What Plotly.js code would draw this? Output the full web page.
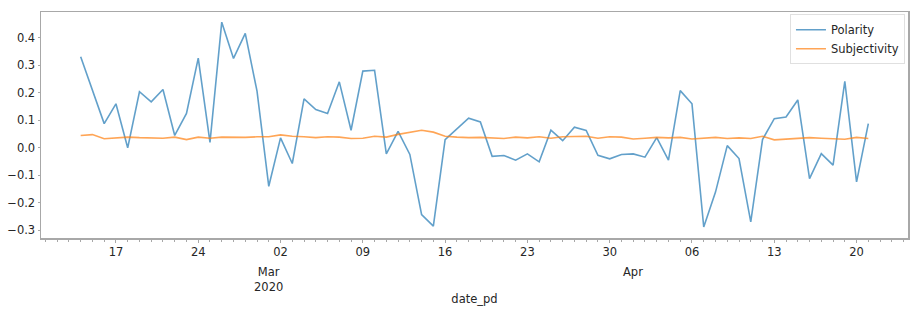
<!DOCTYPE html>
<html>
<head>
<meta charset="utf-8">
<script src="https://cdn.plot.ly/plotly-3.0.1.min.js"></script>
<style>html,body{margin:0;padding:0;background:#fff}#chart{width:924px;height:323px}</style>
</head>
<body>
<div id="chart"></div>
<script>
// Daily dates 2020-02-14 .. 2020-04-21
const startDate = '2020-02-14';
const nDays = 68;
const polarity = [
  0.330, 0.205, 0.087, 0.159, -0.001, 0.203, 0.166, 0.211, 0.044, 0.124,
  0.325, 0.019, 0.456, 0.324, 0.415, 0.205,
  -0.141, 0.035, -0.058, 0.177, 0.138, 0.124, 0.239, 0.063, 0.278, 0.281,
  -0.023, 0.059, -0.025, -0.244, -0.286, 0.029, 0.068, 0.107, 0.093, -0.032,
  -0.029, -0.046, -0.023, -0.052, 0.063, 0.025, 0.074, 0.062, -0.028, -0.041,
  -0.025,
  -0.023, -0.035, 0.036, -0.046, 0.207, 0.159, -0.289, -0.162, 0.007, -0.040,
  -0.270, 0.029, 0.105, 0.111, 0.173, -0.113, -0.022, -0.064, 0.241, -0.125,
  0.087
];
const subjectivity = [
  0.044, 0.047, 0.032, 0.036, 0.038, 0.036, 0.035, 0.034, 0.038, 0.029,
  0.038, 0.034, 0.038, 0.037, 0.037, 0.039,
  0.039, 0.046, 0.041, 0.039, 0.036, 0.039, 0.038, 0.033, 0.034, 0.041,
  0.038, 0.048, 0.056, 0.063, 0.056, 0.041, 0.038, 0.036, 0.037, 0.036,
  0.033, 0.038, 0.035, 0.039, 0.034, 0.039, 0.041, 0.041, 0.034, 0.039,
  0.038,
  0.031, 0.034, 0.037, 0.035, 0.037, 0.031, 0.033, 0.037, 0.033, 0.035,
  0.033, 0.041, 0.028, 0.031, 0.032, 0.036, 0.034, 0.032, 0.030, 0.037,
  0.033
];
const majorTickDates = ['2020-02-17','2020-02-24','2020-03-02','2020-03-09','2020-03-16','2020-03-23','2020-03-30','2020-04-06','2020-04-13','2020-04-20'];
const majorTickLabels = ['17','24','02','09','16','23','30','06','13','20'];
const monthLabelDates = ['2020-03-01','2020-04-01'];
const monthLabels = ['Mar<br>2020','Apr'];
const yTickVals = [-0.3,-0.2,-0.1,0.0,0.1,0.2,0.3,0.4];

const dates = [];
const d0 = new Date(startDate + 'T00:00:00Z');
for (let i = 0; i < nDays; i++) {
  const d = new Date(d0.getTime() + i * 86400000);
  dates.push(d.toISOString().slice(0,10));
}

const font = {family: 'DejaVu Sans, sans-serif', size: 11.5, color: '#262626'};
const axisGray = '#a8a8a8';

const traces = [
  {x: dates, y: polarity, type: 'scatter', mode: 'lines', name: 'Polarity',
   line: {color: '#1f77b4', width: 1.6}, opacity: 0.7},
  {x: dates, y: subjectivity, type: 'scatter', mode: 'lines', name: 'Subjectivity',
   line: {color: '#ff7f0e', width: 1.6}, opacity: 0.7}
];

const annotations = monthLabelDates.map((d, i) => ({
  x: d, xref: 'x', y: 0, yref: 'paper', yanchor: 'top', xanchor: 'center',
  yshift: -25, text: monthLabels[i], showarrow: false, font: font, align: 'center'
}));

const layout = {
  width: 924, height: 323,
  margin: {l: 41, r: 16, t: 12, b: 85},
  paper_bgcolor: '#fff', plot_bgcolor: '#fff',
  font: font,
  showlegend: true,
  legend: {x: 0.9965, y: 0.99, xanchor: 'right', yanchor: 'top',
    bordercolor: '#e0e0e0', borderwidth: 1, bgcolor: 'rgba(255,255,255,0.8)',
    font: {family: 'DejaVu Sans, sans-serif', size: 11.5, color: '#262626'},
    tracegroupgap: 0, itemwidth: 30},
  xaxis: {
    type: 'date',
    range: ['2020-02-10 15:00', '2020-04-24 09:00'],
    tickmode: 'array', tickvals: majorTickDates, ticktext: majorTickLabels,
    ticks: 'outside', ticklen: 3, tickwidth: 1, tickcolor: axisGray,
    minor: {dtick: 86400000, tick0: '2020-02-10', ticks: 'outside', ticklen: 2, tickcolor: axisGray, showgrid: false},
    showgrid: false, zeroline: false,
    showline: true, mirror: true, linecolor: axisGray, linewidth: 1.5,
    tickfont: font,
    title: {text: 'date_pd', font: font, standoff: 36}
  },
  yaxis: {
    range: [-0.329, 0.493],
    tickmode: 'array', tickvals: yTickVals, tickformat: '.1f',
    ticks: 'outside', ticklen: 2, tickwidth: 1, tickcolor: axisGray,
    showgrid: false, zeroline: false,
    showline: true, mirror: true, linecolor: axisGray, linewidth: 1.5,
    tickfont: font
  },
  annotations: annotations
};

Plotly.newPlot('chart', traces, layout, {staticPlot: true, displayModeBar: false});
</script>
</body>
</html>
